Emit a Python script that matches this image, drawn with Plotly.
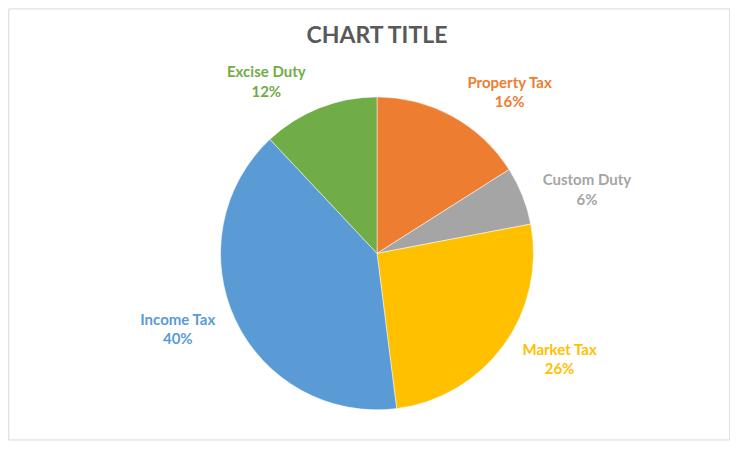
import plotly.graph_objects as go

labels = ["Property Tax", "Custom Duty", "Market Tax", "Income Tax", "Excise Duty"]
shares = [16, 6, 26, 40, 12]
colors = ["#ED7D31", "#A5A5A5", "#FFC000", "#5B9BD5", "#70AD47"]

# slices
pie = go.Pie(
    labels=labels,
    values=shares,
    sort=False,
    direction="clockwise",
    rotation=0,
    marker=dict(colors=colors, line=dict(color="#FFFFFF", width=0.5)),
    textinfo="none",
    hoverinfo="label+percent",
    domain=dict(x=[0.287, 0.713], y=[0.105, 0.802]),
    showlegend=False,
)

# same data, slightly larger and invisible: carries the outside labels so they
# sit a bit further from the pie, like Excel's data labels
label_ring = go.Pie(
    labels=labels,
    values=shares,
    sort=False,
    direction="clockwise",
    rotation=0,
    marker=dict(colors=["rgba(0,0,0,0)"] * len(labels), line=dict(width=0)),
    texttemplate="<b>%{label}</b><br><b>%{percent:.0%}</b>",
    textposition="outside",
    outsidetextfont=dict(family="Lato", size=15, color=colors),
    hoverinfo="skip",
    domain=dict(x=[0.271, 0.729], y=[0.079, 0.828]),
    showlegend=False,
)

fig = go.Figure([pie, label_ring])

fig.update_layout(
    width=738,
    height=449,
    paper_bgcolor="#FFFFFF",
    plot_bgcolor="#FFFFFF",
    margin=dict(l=0, r=0, t=0, b=0),
    title=dict(
        text="<b>CHART TITLE</b>",
        x=0.5,
        xanchor="center",
        y=0.94,
        yanchor="middle",
        font=dict(family="Lato", size=23, color="#595959"),
    ),
    shapes=[
        dict(
            type="rect",
            xref="paper",
            yref="paper",
            x0=0.001,
            x1=0.978,
            y0=0.038,
            y1=0.998,
            line=dict(color="#D9D9D9", width=1),
        )
    ],
)

fig.write_html("out.html")
